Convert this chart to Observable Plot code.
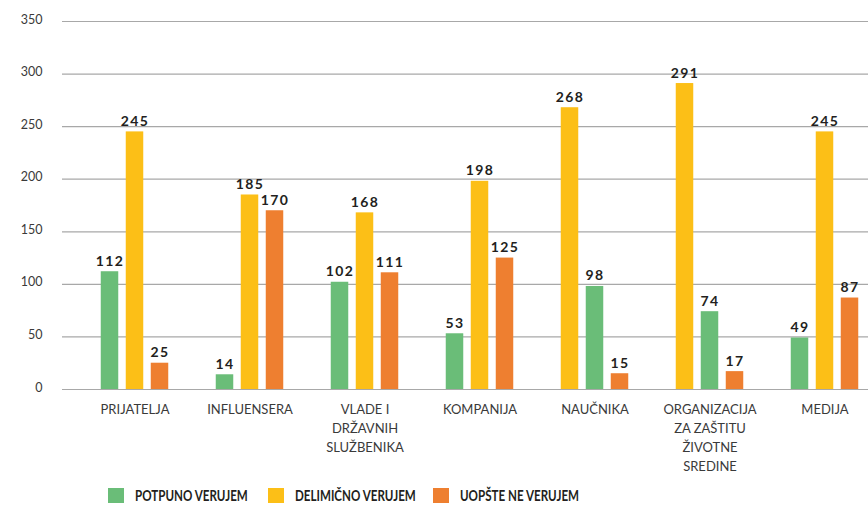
<!DOCTYPE html>
<html>
<head>
<meta charset="utf-8">
<script src="https://cdn.jsdelivr.net/npm/d3@7"></script>
<script src="https://cdn.jsdelivr.net/npm/@observablehq/plot@0.6"></script>
<style>
  html, body { margin: 0; padding: 0; background: #fff; }
  #wrap { position: relative; width: 868px; height: 507px; font-family: Lato, "Noto Sans", sans-serif; }
  #chart svg { display: block; }
  .vals text { letter-spacing: 1.4px; }
  .legend-item { position: absolute; top: 488px; display: flex; align-items: center; height: 15px; }
  .legend-item .sw { width: 16px; height: 15px; margin-right: 11px; flex: none; }
  .legend-item span { display: inline-block; font-weight: 700; font-size: 14.5px; color: #231f20; white-space: nowrap; transform: scaleX(0.8); transform-origin: 0 50%; }
</style>
</head>
<body>
<div id="wrap">
  <div id="chart"></div>
  <div id="legend"></div>
</div>
<script>
const categories = ["PRIJATELJA", "INFLUENSERA", "VLADE I DR\u017DAVNIH SLU\u017DBENIKA", "KOMPANIJA", "NAU\u010CNIKA", "ORGANIZACIJA ZA ZA\u0160TITU \u017DIVOTNE SREDINE", "MEDIJA"];
// tick labels, one list of lines per category
const tickLines = [
  ["PRIJATELJA"],
  ["INFLUENSERA"],
  ["VLADE I", "DR\u017DAVNIH", "SLU\u017DBENIKA"],
  ["KOMPANIJA"],
  ["NAU\u010CNIKA"],
  ["ORGANIZACIJA", "ZA ZA\u0160TITU", "\u017DIVOTNE", "SREDINE"],
  ["MEDIJA"]
];
const seriesNames = ["POTPUNO VERUJEM", "DELIMI\u010CNO VERUJEM", "UOP\u0160TE NE VERUJEM"];
const potpuno = [112, 14, 102, 53, 98, 74, 49];
const delimicno = [245, 185, 168, 198, 268, 291, 245];
const uopste = [25, 170, 111, 125, 15, 17, 87];
// series index shown in each of the three slots of every group (as in the original)
const barOrder = [[0, 1, 2], [0, 1, 2], [0, 1, 2], [0, 1, 2], [1, 0, 2], [1, 0, 2], [0, 1, 2]];
const yTicks = [0, 50, 100, 150, 200, 250, 300, 350];
const colors = ["#6abd78", "#fcbf17", "#ee7f30"];

const seriesValues = [potpuno, delimicno, uopste];
const rows = categories.flatMap((c, i) =>
  barOrder[i].map((s, slot) => ({category: c, series: seriesNames[s], value: seriesValues[s][i], slot}))
);
const labelRows = categories.flatMap((c, i) => tickLines[i].map((t, line) => ({category: c, text: t, line})));

const groupStep = 115.5, barW = 18, slotStep = 25, lineStep = 19;
const sideInset = (groupStep - barW) / 2;

const marks = [Plot.ruleY(yTicks, {stroke: "#a8a8a8", strokeWidth: 1.2})];
for (let slot = 0; slot < 3; slot++) {
  const sub = rows.filter(d => d.slot === slot);
  marks.push(Plot.barY(sub, {x: "category", y: "value", fill: "series", insetLeft: sideInset, insetRight: sideInset, dx: (slot - 1) * slotStep}));
  marks.push(Plot.text(sub, {x: "category", y: "value", text: d => String(d.value), dx: (slot - 1) * slotStep, dy: -6, lineAnchor: "bottom", fontWeight: "bold", fontSize: 14, fill: "#231f20", className: "vals"}));
}
for (let line = 0; line < 4; line++) {
  marks.push(Plot.text(labelRows.filter(d => d.line === line), {x: "category", text: "text", frameAnchor: "bottom", lineAnchor: "top", dy: 15 + line * lineStep, fontSize: 13, fill: "#3a3a3a"}));
}
marks.push(Plot.axisY({ticks: yTicks, tickSize: 0, tickPadding: 20, dy: -2, fontSize: 12.5, fill: "#3a3a3a", label: null}));

const chart = Plot.plot({
  width: 868,
  height: 507,
  marginLeft: 62,
  marginRight: 0,
  marginTop: 21,
  marginBottom: 118,
  style: {fontFamily: "Lato", background: "#fff"},
  x: {type: "band", domain: categories, range: [75.25, 75.25 + groupStep * categories.length], padding: 0, axis: null},
  y: {domain: [0, 350]},
  color: {domain: seriesNames, range: colors},
  marks
});
document.getElementById("chart").appendChild(chart);

const legendLeft = [108, 268, 433];
const legend = document.getElementById("legend");
seriesNames.forEach((name, i) => {
  const item = document.createElement("div");
  item.className = "legend-item";
  item.style.left = legendLeft[i] + "px";
  const sw = document.createElement("div");
  sw.className = "sw";
  sw.style.background = colors[i];
  const t = document.createElement("span");
  t.textContent = name;
  item.appendChild(sw);
  item.appendChild(t);
  legend.appendChild(item);
});
</script>
</body>
</html>
